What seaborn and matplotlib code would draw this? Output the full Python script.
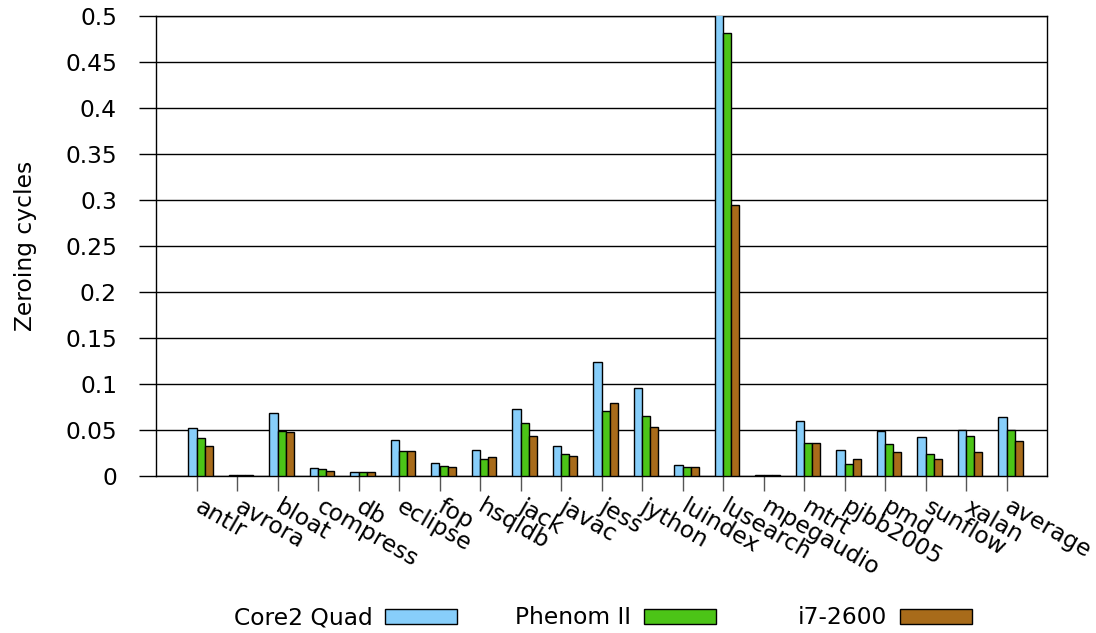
import numpy as np
import pandas as pd
import matplotlib
matplotlib.use("Agg")
import matplotlib.pyplot as plt
import seaborn as sns
from matplotlib.patches import Patch

benchmarks = ["antlr", "avrora", "bloat", "compress", "db", "eclipse", "fop", "hsqldb",
              "jack", "javac", "jess", "jython", "luindex", "lusearch", "mpegaudio",
              "mtrt", "pjbb2005", "pmd", "sunflow", "xalan", "average"]
core2_quad = [0.052, 0.001, 0.068, 0.009, 0.004, 0.039, 0.014, 0.028, 0.073, 0.033, 0.124,
              0.096, 0.012, 0.51, 0.001, 0.060, 0.028, 0.049, 0.042, 0.050, 0.064]
phenom_ii = [0.041, 0.001, 0.049, 0.008, 0.004, 0.027, 0.011, 0.019, 0.058, 0.024, 0.071,
             0.065, 0.0098, 0.482, 0.001, 0.0355, 0.0127, 0.0344, 0.0236, 0.044, 0.050]
i7_2600 = [0.033, 0.001, 0.048, 0.005, 0.004, 0.027, 0.010, 0.021, 0.044, 0.022, 0.079,
           0.053, 0.0098, 0.295, 0.001, 0.0355, 0.018, 0.026, 0.019, 0.026, 0.038]
series_names = ["Core2 Quad", "Phenom II", "i7-2600"]
colors = ["#87CEFA", "#4CC417", "#A86B1A"]
yticks = [0, 0.05, 0.1, 0.15, 0.2, 0.25, 0.3, 0.35, 0.4, 0.45, 0.5]
ytick_labels = ["0", "0.05", "0.1", "0.15", "0.2", "0.25", "0.3", "0.35", "0.4", "0.45", "0.5"]

rows = []
for name, vals in zip(series_names, [core2_quad, phenom_ii, i7_2600]):
    for b, v in zip(benchmarks, vals):
        rows.append({"benchmark": b, "value": v, "cpu": name})
df = pd.DataFrame(rows)

sns.set_style("white")
plt.rcParams["font.family"] = ["DejaVu Sans"]
plt.rcParams["text.color"] = "black"
plt.rcParams["axes.labelcolor"] = "black"
plt.rcParams["xtick.color"] = "black"
plt.rcParams["ytick.color"] = "black"
FS = 16.8

W, H = 1096, 633
fig = plt.figure(figsize=(W / 100, H / 100), dpi=100)
ax = fig.add_axes([156 / W, 1 - 476 / H, (1047 - 156) / W, (476 - 16) / H])

sns.barplot(data=df, x="benchmark", y="value", hue="cpu", order=benchmarks,
            hue_order=series_names, palette=colors, width=0.6, saturation=1,
            edgecolor="black", linewidth=1.0, legend=False, ax=ax, zorder=3)

ax.set_xlim(-1.1, 20.9)
ax.set_ylim(0, 0.5)
ax.set_yticks(yticks)
ax.set_yticklabels(ytick_labels, fontsize=FS, color="black")
ax.set_xticks(np.arange(len(benchmarks)) - 0.1)
ax.set_xticklabels(benchmarks, fontsize=FS, rotation=-30, ha="left", va="center",
                   rotation_mode="anchor", color="black")
ax.tick_params(axis="y", direction="out", length=12, width=1, pad=16, color="black", left=True)
ax.tick_params(axis="x", direction="out", length=11, width=1, pad=10, color="#555555", bottom=True)
ax.yaxis.grid(True, color="black", linewidth=1.0, zorder=0)
ax.xaxis.grid(False)
ax.set_axisbelow(True)
for s in ax.spines.values():
    s.set_visible(True)
    s.set_color("black")
    s.set_linewidth(1.0)
ax.set_xlabel("")
ax.set_ylabel("Zeroing cycles", fontsize=FS, color="black")
ax.yaxis.set_label_coords(-0.134, 0.5)

# legend: text then swatch, three separate entries
box_ends = [457, 716, 972]
for name, col, xe in zip(series_names, colors, box_ends):
    h = Patch(facecolor=col, edgecolor="black", linewidth=1.0)
    fig.legend([h], [name], loc="center right", bbox_to_anchor=(xe / W, 1 - 618 / H),
               frameon=False, markerfirst=False, fontsize=FS, borderpad=0,
               borderaxespad=0, handlelength=3.08, handleheight=0.62, handletextpad=0.55,
               labelcolor="black")

fig.savefig("out.png", dpi=100)
